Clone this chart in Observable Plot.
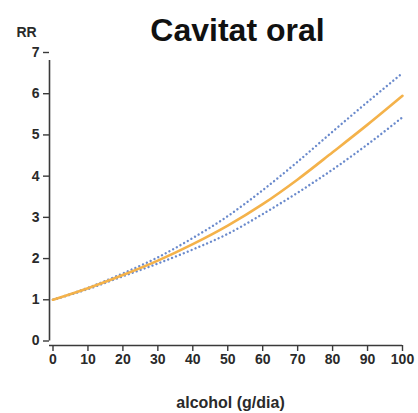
<!DOCTYPE html>
<html>
<head>
<meta charset="utf-8">
<script src="https://cdn.jsdelivr.net/npm/d3@7"></script>
<script src="https://cdn.jsdelivr.net/npm/@observablehq/plot@0.6"></script>
<style>
  html, body { margin: 0; padding: 0; background: #fff; }
  #chart { width: 418px; height: 413px; overflow: hidden; }
  svg { display: block; }
</style>
</head>
<body>
<div id="chart"></div>
<script>
const alcohol = [0, 10, 20, 30, 40, 50, 60, 70, 80, 90, 100];
const rr      = [1.00, 1.28, 1.60, 1.95, 2.35, 2.80, 3.32, 3.92, 4.58, 5.25, 5.95];
const rrUpper = [1.00, 1.29, 1.64, 2.03, 2.50, 3.03, 3.66, 4.35, 5.08, 5.80, 6.50];
const rrLower = [1.00, 1.26, 1.57, 1.88, 2.22, 2.60, 3.08, 3.60, 4.16, 4.77, 5.43];
const xTicks = [0, 10, 20, 30, 40, 50, 60, 70, 80, 90, 100];
const yTicks = [0, 1, 2, 3, 4, 5, 6, 7];
const titleText = "Cavitat oral";
const yLabel = "RR";
const xLabel = "alcohol (g/dia)";

const rows = (ys) => alcohol.map((a, i) => ({x: a, y: ys[i]}));
const font = "'Liberation Sans', Arial, sans-serif";
const axisColor = "#3a3a3a";
const textColor = "#2a2a2a";

const chart = Plot.plot({
  width: 418,
  height: 413,
  marginLeft: 52.5,
  marginRight: 16,
  marginTop: 52,
  marginBottom: 72.5,
  style: {fontFamily: font, background: "#fff"},
  x: {domain: [0, 100]},
  y: {domain: [0, 7]},
  marks: [
    Plot.ruleX([0], {y1: 0, y2: 7, dx: -3.5, stroke: axisColor, strokeWidth: 1.6, insetBottom: -8}),
    Plot.ruleY([0], {x1: 0, x2: 100, dy: 4.5, stroke: axisColor, strokeWidth: 1.6, insetLeft: -3.5}),
    Plot.axisY(yTicks, {anchor: "left", dx: -3.5, tickSize: 6, tickPadding: 4, stroke: axisColor, strokeWidth: 1.4,
      fontSize: 14, fontWeight: "bold", fill: textColor, label: null}),
    Plot.axisX(xTicks, {anchor: "bottom", dy: 4.5, tickSize: 6, tickPadding: 3, stroke: axisColor, strokeWidth: 1.4,
      fontSize: 14, fontWeight: "bold", fill: textColor, label: null}),
    Plot.line(rows(rrUpper), {x: "x", y: "y", curve: "monotone-x", stroke: "#5a7dc6", strokeWidth: 2.4,
      strokeDasharray: "0.01 4.2", strokeLinecap: "round", strokeOpacity: 0.9}),
    Plot.line(rows(rrLower), {x: "x", y: "y", curve: "monotone-x", stroke: "#5a7dc6", strokeWidth: 2.4,
      strokeDasharray: "0.01 4.2", strokeLinecap: "round", strokeOpacity: 0.9}),
    Plot.line(rows(rr), {x: "x", y: "y", curve: "monotone-x", stroke: "#f4b24a", strokeWidth: 2.6}),
    Plot.text([titleText], {frameAnchor: "top-left", dx: 237 - 52.5, dy: -52 + 30, text: d => d, textAnchor: "middle",
      fontSize: 32, fontWeight: "bold", fill: "#111", lineAnchor: "middle"}),
    Plot.text([yLabel], {frameAnchor: "top-left", dx: 26 - 52.5, dy: -52 + 32, text: d => d, textAnchor: "middle",
      fontSize: 14, fontWeight: "bold", fill: textColor, lineAnchor: "middle"}),
    Plot.text([xLabel], {frameAnchor: "bottom-left", dx: 230 - 52.5, dy: 402 - 340.5, text: d => d, textAnchor: "middle",
      fontSize: 16, fontWeight: "bold", fill: textColor, lineAnchor: "middle"})
  ]
});
document.getElementById("chart").appendChild(chart);
</script>
</body>
</html>
